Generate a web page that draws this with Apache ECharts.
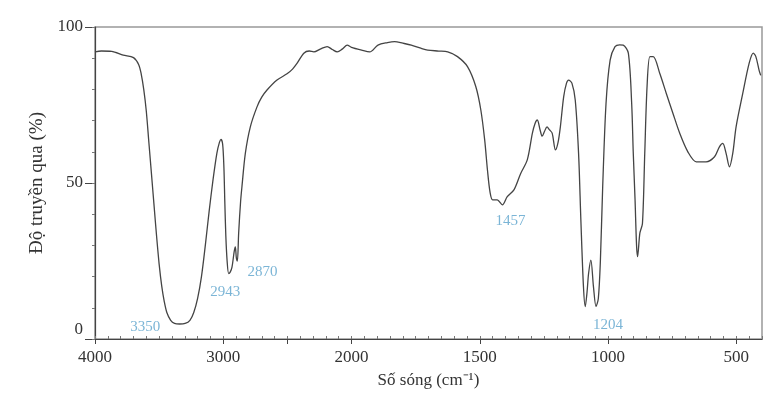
<!DOCTYPE html>
<html>
<head>
<meta charset="utf-8">
<script src="https://cdn.jsdelivr.net/npm/echarts@6/dist/echarts.min.js"></script>
<style>
  html, body { margin: 0; padding: 0; background: #fff; }
  #chart { width: 777px; height: 394px; }
</style>
</head>
<body>
<div id="chart"></div>
<script>
// IR spectrum: wavenumber (cm-1) and transmittance (%)
const wavenumbers = [
  4000, 3950, 3870, 3780, 3700, 3660, 3640, 3620, 3600, 3580, 3560, 3540, 3520, 3500, 3480, 3460,
  3440, 3410, 3380, 3340, 3297, 3260, 3230, 3200, 3170, 3140, 3110, 3080, 3050, 3030, 3018, 3005,
  2995, 2988, 2980, 2970, 2958, 2945, 2932, 2915, 2906, 2898, 2890, 2880, 2865, 2854, 2828, 2789,
  2737, 2700, 2659, 2581, 2503, 2460, 2424, 2372, 2330, 2294, 2240, 2190, 2150, 2112, 2070, 2034,
  2000, 1961, 1929, 1897, 1860, 1832, 1800, 1767, 1730, 1703, 1660, 1625, 1587, 1548, 1516, 1496,
  1481, 1470, 1460, 1450, 1432, 1412, 1393, 1367, 1341, 1315, 1295, 1285, 1276, 1265, 1257, 1248,
  1238, 1228, 1218, 1205, 1195, 1186, 1173, 1162, 1154, 1141, 1128, 1115, 1106, 1096, 1089, 1082,
  1076, 1067, 1057, 1047, 1038, 1030, 1021, 1008, 992, 973, 955, 941, 921, 908, 902, 895,
  889, 885, 876, 866, 857, 848, 837, 824, 798, 773, 747, 721, 689, 656, 618, 585,
  566, 553, 540, 527, 514, 501, 475, 450, 434, 424, 411, 405
];
const transmittance = [
  92, 92.3, 92.2, 91, 90.2, 88, 85, 80, 73, 63, 53, 43, 33, 24, 17, 12,
  8.5, 6, 5, 4.8, 5, 6, 8.5, 13, 20, 30, 41, 51, 59.5, 63, 64, 62.5,
  55, 44, 33, 25, 21, 21.5, 23, 28, 29.5, 26, 25, 34, 44, 49, 59.5, 68,
  74.4, 77.5, 79.8, 83, 85, 86.5, 88.4, 91.6, 92.3, 92, 93, 93.7, 92.8, 92, 93, 94.2,
  93.5, 92.6, 92, 94.2, 95, 95.3, 94.8, 94.2, 93.2, 92.6, 92.3, 92, 90.5, 87.3, 81, 73.4,
  63.8, 54, 47, 44.6, 44.6, 43, 45.6, 47.8, 53, 57.4, 66, 69, 70.2, 67, 65, 66.5,
  68, 67, 66, 60.6, 63, 68, 77.7, 82, 83, 82, 76.6, 59.5, 38, 16.8, 10.4, 15,
  21, 25.3, 16.8, 10.4, 13, 25, 48.8, 75.5, 89.4, 93.7, 94.3, 94.2, 91.6, 75.5, 60, 45,
  30, 26.4, 34, 37, 59.6, 81, 90.5, 90.5, 85, 78.7, 72.3, 66, 60, 56.8, 56.8, 58.4,
  61.6, 62.7, 59.5, 55.2, 59.5, 68, 78.7, 88.4, 91.6, 90.5, 86, 84.5
];

// peak labels: text, wavenumber and transmittance where the label sits
const peakNames = ['3350', '2943', '2870', '1457', '1204'];
const peakWave = [3609, 2984, 2695, 1380, 1000];
const peakValue = [3.8, 15, 21.5, 37.8, 4.5];

const majorTicks = [4000, 3000, 2500, 2000, 1500, 1000, 500];
const tickLabels = [4000, 3000, 2000, 1500, 1000, 500];

// axis is compressed by half above 2000 cm-1
const toAxis = (w) => (w > 2000 ? 2000 + (w - 2000) / 2 : w);
const fromAxis = (u) => (u > 2000 ? 2000 + (u - 2000) * 2 : u);

const serif = 'Liberation Serif';
const chart = echarts.init(document.getElementById('chart'));

chart.setOption({
  animation: false,
  grid: { left: 95, right: 15, top: 27, bottom: 55, show: true, borderColor: '#999', borderWidth: 1.5 },
  xAxis: [
    {
      type: 'value', min: 400, max: 3000, inverse: true,
      name: 'Số sóng (cm⁻¹)', nameLocation: 'middle', nameGap: 33,
      nameTextStyle: { fontFamily: serif, fontSize: 17, color: '#333' },
      axisLine: { show: true, lineStyle: { color: '#444', width: 1.2 } },
      axisTick: { show: true, length: 5, customValues: majorTicks.map(toAxis), lineStyle: { color: '#444' } },
      axisLabel: {
        customValues: tickLabels.map(toAxis), margin: 10,
        fontFamily: serif, fontSize: 17, color: '#333',
        formatter: (u) => String(Math.round(fromAxis(u)))
      },
      splitLine: { show: false }
    },
    {
      type: 'value', min: 400, max: 3000, inverse: true, interval: 50, position: 'bottom',
      axisLine: { show: false },
      axisTick: { show: true, inside: true, length: 3, lineStyle: { color: '#777' } },
      axisLabel: { show: false },
      splitLine: { show: false }
    }
  ],
  yAxis: [
    {
      type: 'value', min: 0, max: 100, interval: 50,
      name: 'Độ truyền qua (%)', nameLocation: 'middle', nameGap: 48,
      nameTextStyle: { fontFamily: serif, fontSize: 19, color: '#333' },
      axisLine: { show: true, lineStyle: { color: '#444', width: 1.2 } },
      axisTick: { show: true, length: 10, lineStyle: { color: '#444' } },
      axisLabel: {
        fontFamily: serif, fontSize: 17, color: '#333', margin: 12,
        formatter: (v) => (v === 0 ? '{z|0}' : String(v)),
        rich: { z: { fontFamily: serif, fontSize: 17, color: '#333', padding: [0, 0, 18, 0] } }
      },
      splitLine: { show: false }
    },
    {
      type: 'value', min: 0, max: 100, interval: 10, position: 'left',
      axisLine: { show: false },
      axisTick: { show: true, length: 3, lineStyle: { color: '#777' } },
      axisLabel: { show: false },
      splitLine: { show: false }
    }
  ],
  series: [
    {
      type: 'line',
      xAxisIndex: 0, yAxisIndex: 0,
      showSymbol: false,
      smooth: 0.3,
      lineStyle: { color: '#444', width: 1.3 },
      data: wavenumbers.map((w, i) => [toAxis(w), transmittance[i]])
    },
    {
      type: 'scatter',
      xAxisIndex: 0, yAxisIndex: 0,
      symbolSize: 0,
      label: {
        show: true, position: 'inside',
        fontFamily: serif, fontSize: 15, color: '#5aa3cc',
        formatter: (p) => p.name
      },
      data: peakNames.map((n, i) => ({ name: n, value: [toAxis(peakWave[i]), peakValue[i]] }))
    }
  ]
});
</script>
</body>
</html>
